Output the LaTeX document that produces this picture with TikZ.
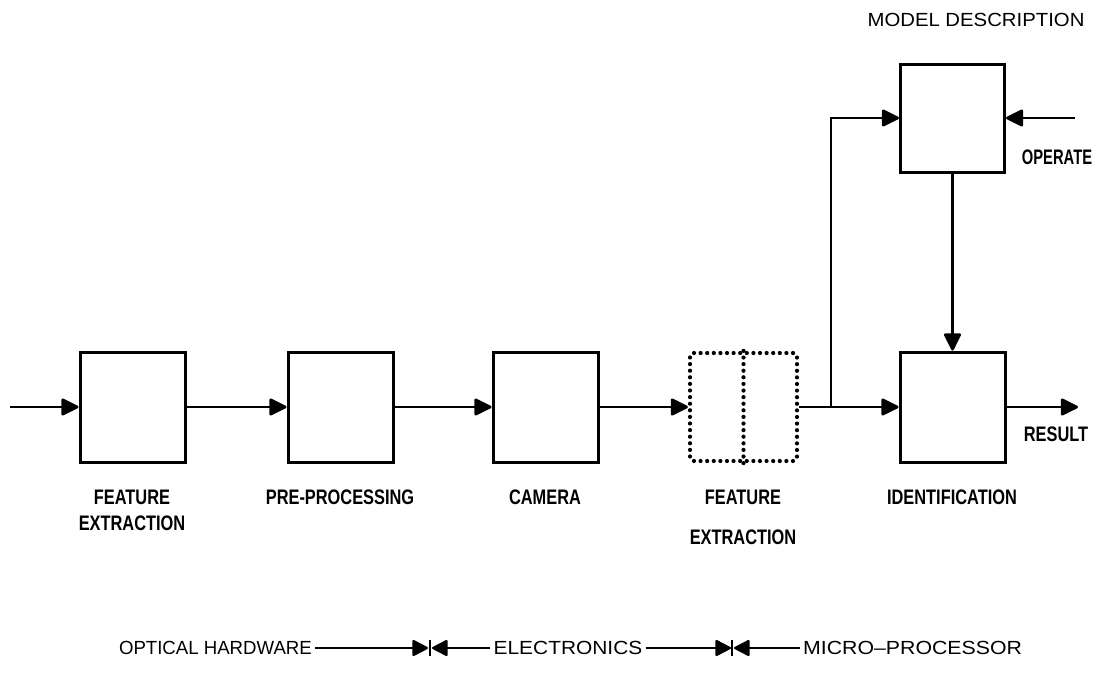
\documentclass[tikz,border=0pt]{standalone}
\usepackage{fontspec}
\setmainfont{Liberation Sans}
\usetikzlibrary{arrows.meta}
\begin{document}
\begin{tikzpicture}[x=1pt,y=-1pt,
  blk/.style={draw, line width=3pt, minimum width=105pt, minimum height=110pt, inner sep=0pt},
  dotpat/.style={line width=4.2pt, line cap=round, dash pattern=on 0pt off 6.6pt},
  dotbox/.style={draw, dotpat, rounded corners=4pt, minimum width=107pt, minimum height=108pt, inner sep=0pt},
  conn/.style={line width=2.8pt},
  arr/.style={conn, -{Triangle[length=19pt,width=18pt,round]}},
  larr/.style={line width=2.2pt, -{Triangle[length=17pt,width=17pt,round]}},
  lbl/.style={font=\bfseries\fontsize{21}{26}\selectfont, align=center, xscale=0.78, inner sep=0pt},
  leg/.style={font=\fontsize{19}{22}\selectfont, inner sep=0pt}]
\useasboundingbox (0,0) rectangle (1105,681);
% blocks
\node[blk] (b1) at (132.5,407) {};
\node[blk] (b2) at (340.5,407) {};
\node[blk] (b3) at (545.5,407) {};
\node[dotbox] (fe) at (743.5,407) {};
\draw[dotpat] (fe.north) -- (fe.south);
\node[blk] (id) at (952.5,407) {};
\node[blk, minimum width=104pt, minimum height=108pt] (md) at (952.5,118) {};
% connectors
\coordinate (in) at (10,407);
\coordinate (br) at (831,407);
\coordinate (op) at (1075,118);
\coordinate (res) at (1078,407);
\draw[arr] (in) -- (b1.west);
\draw[arr] (b1.east) -- (b2.west);
\draw[arr] (b2.east) -- (b3.west);
\draw[arr] (b3.east) -- (fe.west);
\draw[conn] (fe.east) -- (br);
\draw[arr] (br) -- (id.west);
\draw[arr] (br) |- (md.west);
\draw[arr] (op) -- (md.east);
\draw[arr] (md.south) -- (id.north);
\draw[arr] (id.east) -- (res);
% labels
\node[lbl] (l1) at (132,510) {FEATURE\\EXTRACTION};
\node[lbl] (l2) at (340,497) {PRE-PROCESSING};
\node[lbl] (l3) at (545,497) {CAMERA};
\node[lbl] (l4) at (743,517) {FEATURE\\[14pt]EXTRACTION};
\node[lbl] (l5) at (952,497) {IDENTIFICATION};
\node[lbl] (l6) at (1056,434) {RESULT};
\node[lbl, xscale=0.9] (l7) at (1057,157) {OPERATE};
\node[leg, xscale=1.07] (l8) at (976,20) {MODEL DESCRIPTION};
% legend
\node[leg, anchor=east, xscale=0.98] (oh) at (312,648) {OPTICAL HARDWARE};
\node[leg, xscale=1.1] (el) at (568,648) {ELECTRONICS};
\node[leg, anchor=west, xscale=1.12] (mp) at (803,648) {MICRO--PROCESSOR};
\coordinate (t1) at (428,648);
\coordinate (t2) at (731,648);
\draw[line width=2pt] (430,640) -- (430,656);
\draw[line width=2pt] (732,640) -- (732,656);
\draw[larr] (oh.east) ++(3,0) -- (t1);
\draw[larr] (el.west) ++(-3,0) -- (432,648);
\draw[larr] (el.east) ++(3,0) -- (t2);
\draw[larr] (mp.west) ++(-3,0) -- (734,648);
\end{tikzpicture}
\end{document}
